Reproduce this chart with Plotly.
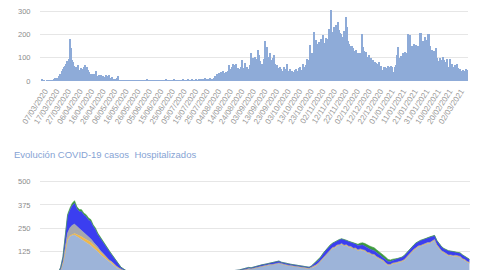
import plotly.graph_objects as go
import pandas as pd

start_date = "2020-03-07"

# Daily new cases (top bar chart), one value per day from 07/03/2020
daily_cases = [
    8, 0, 1, 0, 2, 1, 3, 2, 0, 4,
    6, 12, 15, 9, 14,
    22, 30, 45, 52, 58, 66, 72, 85,
    95, 180, 140, 92, 80, 66, 62,
    58, 70, 48, 38, 55, 52, 62, 70, 44, 60,
    46, 40, 30, 28, 26, 32, 24, 42, 22, 25,
    18, 24, 20, 22, 16, 25, 22, 18, 24, 14,
    12, 16, 10, 8, 6, 12, 20, 4,
    2, 1, 3, 0, 2, 4, 1, 2, 0, 3, 1, 2,
    3, 1, 0, 2, 4, 1, 2, 3, 0, 1, 2, 5, 1, 3, 2, 0, 1, 4, 2, 1,
    2, 3, 1, 4, 2, 1, 3, 5, 2, 1, 4, 2, 3, 1, 6, 2, 3, 4, 1, 2,
    3, 2, 5, 4, 2, 3, 6, 3, 2, 4, 5, 3, 2, 6, 4, 3, 5, 4, 8,
    10, 6, 12, 8, 9, 5, 11, 7, 9, 10,
    14, 20, 28, 24, 35, 30, 38, 26, 42, 33, 40, 36,
    45, 68, 50, 62, 75, 58, 67, 72, 38, 55,
    52, 60, 88, 55, 48, 76, 62, 50, 40, 68,
    120, 88, 98, 103, 80, 95, 132, 110, 85, 72,
    53, 95, 172, 120, 146, 105, 118, 92, 82, 98,
    110, 75, 68, 55, 48, 60, 52, 45, 58, 50,
    48, 75, 42, 38, 50, 44, 39, 30, 46, 53,
    42, 55, 60, 48, 35, 75, 62, 70, 96, 66,
    88, 153, 82, 120, 210, 140, 175, 160, 146, 168,
    180, 175, 196, 130, 165, 185, 178, 224, 188, 306,
    196, 210, 232, 238, 226, 253, 218, 205, 202, 190,
    215, 180, 274, 230, 170, 160, 148, 152, 140, 130,
    125, 135, 118, 110, 122, 115, 203, 146, 130, 125,
    95, 103, 110, 62, 100, 88, 75, 82, 78, 46,
    72, 80, 65, 48, 32, 58, 62, 55, 66, 60,
    54, 63, 58, 39, 62, 68, 110, 146, 70, 100,
    108, 120, 115, 125, 105, 118, 203, 198, 140, 150,
    145, 160, 138, 155, 150, 142, 205, 207, 165, 170,
    190, 175, 168, 203, 200, 150, 132, 120, 128, 112,
    140, 98, 85, 100, 92, 78, 103, 88, 80, 96,
    60, 8, 96, 70, 75, 62, 68, 58, 72, 55,
    50, 52, 45, 48, 40, 44, 52, 46,
]

# Hospitalised (bottom stacked area), one value every 2 days from 07/03/2020
hosp_base = [
    0, 0, 0, 0, 1, 2, 4,
    8, 25, 60, 130, 185, 205, 212, 214, 206, 200,
    190, 180, 172, 165, 158, 146, 136, 124, 110, 100,
    88, 76, 67, 60, 50, 40, 33, 26, 21, 15,
    11, 9,
    8, 7, 7, 6, 6, 5, 5, 5, 4, 4,
    4, 4, 3, 3, 3, 3, 3, 4, 4, 4,
    5, 5, 5, 6, 6, 7, 8, 9, 10, 11,
    12, 12, 13, 14, 14, 15, 15, 16, 16, 17,
    17, 18, 18, 19, 20, 21,
    20, 23, 26, 28, 32, 31, 34, 36, 40, 43,
    45, 48, 50, 53, 53, 58, 59, 62, 58, 53,
    52, 50, 48, 45, 44, 41, 40, 36, 36, 34,
    33, 39,
    41, 49, 59, 73, 88, 103, 117, 129, 141, 144,
    155, 158, 164, 154, 157, 148, 146, 139, 139, 129,
    134, 130, 127, 116, 114, 106, 104, 93, 87, 78,
    72, 58, 50, 51, 58, 60, 63, 68, 70, 78,
    91, 108, 117, 131, 140, 150, 153, 159, 162, 168,
    169, 177, 185, 156, 139, 124, 117, 108, 101, 102,
    98, 100, 95, 94, 82, 77, 67, 62,
]
hosp_orange = [
    0, 0, 0, 0, 0, 0, 0,
    0, 1, 2, 3, 4, 5, 6, 8, 10, 12,
    15, 17, 18, 18, 17, 16, 16, 15, 14, 13,
    12, 10, 9, 8, 6, 5, 4, 3, 2, 1,
    1, 0,
    0, 0, 0, 0, 0, 0, 0, 0, 0, 0,
    0, 0, 0, 0, 0, 0, 0, 0, 0, 0,
    0, 0, 0, 0, 0, 0, 0, 0, 0, 0,
    0, 0, 0, 0, 0, 0, 0, 0, 0, 0,
    0, 0, 0, 0, 0, 0,
    1, 1, 1, 1, 1, 1, 1, 1, 1, 1,
    1, 1, 1, 1, 1, 1, 1, 1, 1, 1,
    1, 1, 1, 1, 1, 1, 1, 1, 1, 1,
    1, 1,
    3, 3, 2, 3, 4, 3, 3, 2, 3, 4,
    3, 3, 2, 3, 3, 4, 3, 2, 3, 3,
    3, 4, 3, 3, 2, 3, 3, 4, 3, 3,
    2, 3, 3, 3, 4, 3, 3, 2, 3, 3,
    4, 3, 3, 2, 3, 3, 3, 4, 3, 3,
    2, 3, 3, 3, 4, 3, 2, 3, 3, 3,
    4, 3, 3, 2, 3, 3, 3, 3,
]
hosp_gray = [
    0, 0, 0, 0, 0, 0, 0,
    1, 3, 8, 20, 35, 42, 48, 50, 45, 40,
    36, 30, 26, 22, 18, 15, 12, 10, 8, 6,
    5, 4, 3, 3, 2, 2, 1, 1, 1, 0,
    0, 0,
    0, 0, 0, 0, 0, 0, 0, 0, 0, 0,
    0, 0, 0, 0, 0, 0, 0, 0, 0, 0,
    0, 0, 0, 0, 0, 0, 0, 0, 0, 0,
    0, 0, 0, 0, 0, 0, 0, 0, 0, 0,
    0, 0, 0, 0, 0, 0,
    1, 1, 1, 1, 1, 1, 1, 1, 1, 1,
    1, 1, 1, 1, 1, 1, 1, 1, 1, 1,
    1, 1, 1, 1, 1, 1, 1, 1, 1, 1,
    1, 1,
    2, 2, 2, 1, 2, 2, 2, 3, 2, 2,
    2, 1, 2, 2, 2, 2, 3, 2, 2, 2,
    2, 1, 2, 2, 3, 2, 2, 1, 2, 2,
    3, 2, 2, 2, 1, 2, 2, 3, 2, 2,
    1, 2, 2, 3, 2, 2, 2, 1, 2, 2,
    3, 2, 2, 2, 1, 2, 3, 2, 2, 2,
    1, 2, 2, 3, 2, 2, 2, 2,
]
hosp_blue = [
    0, 0, 0, 0, 0, 1, 1,
    3, 10, 25, 50, 92, 96, 106, 112, 95, 88,
    98, 94, 97, 90, 95, 84, 80, 68, 66, 58,
    56, 47, 46, 37, 32, 22, 17, 10, 8, 5,
    4, 3,
    3, 3, 2, 2, 2, 2, 1, 1, 1, 1,
    1, 1, 1, 1, 1, 1, 1, 1, 1, 1,
    1, 1, 1, 1, 2, 2, 2, 2, 2, 2,
    2, 3, 3, 3, 3, 3, 3, 3, 3, 3,
    3, 3, 3, 3, 3, 4,
    4, 5, 5, 6, 6, 5, 6, 7, 6, 7,
    8, 7, 8, 8, 9, 8, 9, 10, 8, 9,
    8, 8, 7, 8, 7, 7, 6, 7, 6, 6,
    6, 7,
    12, 14, 16, 18, 20, 22, 21, 24, 22, 25,
    23, 26, 24, 27, 22, 25, 23, 26, 22, 24,
    21, 25, 22, 24, 20, 23, 21, 22, 19, 21,
    18, 20, 17, 16, 15, 16, 18, 17, 19, 20,
    22, 21, 24, 22, 25, 23, 26, 24, 27, 25,
    28, 24, 20, 22, 19, 21, 18, 20, 22, 19,
    21, 18, 20, 17, 19, 16, 18, 15,
]
hosp_green = [
    0, 0, 0, 0, 0, 0, 0,
    0, 1, 2, 5, 8, 10, 12, 14, 10, 11,
    11, 10, 10, 10, 9, 8, 7, 7, 6, 6,
    5, 5, 4, 3, 3, 2, 2, 1, 1, 1,
    0, 0,
    0, 0, 0, 0, 0, 0, 0, 0, 0, 0,
    0, 0, 0, 0, 0, 0, 0, 0, 0, 0,
    0, 0, 0, 0, 0, 0, 0, 0, 0, 0,
    0, 0, 0, 0, 0, 0, 0, 0, 0, 0,
    0, 0, 0, 0, 0, 0,
    0, 0, 0, 0, 0, 0, 0, 0, 0, 0,
    0, 0, 0, 0, 0, 0, 0, 0, 0, 0,
    0, 0, 0, 0, 0, 0, 0, 0, 0, 0,
    0, 0,
    2, 2, 2, 2, 2, 2, 2, 2, 2, 2,
    2, 2, 2, 2, 2, 2, 2, 2, 2,
    6, 10, 12, 14, 15, 16, 16, 15, 15, 14,
    14, 13, 12, 10, 8, 6, 4,
    2, 2, 2, 2, 2, 2, 2, 2, 2, 2,
    2, 2, 2, 2, 2, 2, 2, 2, 2, 2,
    2, 2, 2, 2, 2, 2, 2, 2, 2, 2,
    2, 2,
]

title_text = "Evolución COVID-19 casos\u00a0 Hospitalizados"
y1_ticks = [0, 100, 200, 300]
y2_ticks = [125, 250, 375, 500]

dates_daily = pd.date_range(start_date, periods=len(daily_cases), freq="D")
dates_hosp = pd.date_range(start_date, periods=len(hosp_base), freq="2D")

FONT = "Liberation Sans"
fig = go.Figure()
fig.add_trace(go.Bar(
    x=dates_daily, y=daily_cases, xaxis="x", yaxis="y",
    marker=dict(color="#8eabd8", line=dict(width=0)),
))
layers = [
    (hosp_base, "#9db4d9"),
    (hosp_orange, "#f2b845"),
    (hosp_gray, "#a6a8ad"),
    (hosp_blue, "#3b3ef0"),
    (hosp_green, "#3e9b3e"),
]
for vals, col in layers:
    fig.add_trace(go.Scatter(
        x=dates_hosp, y=vals, xaxis="x2", yaxis="y2", stackgroup="hosp",
        mode="lines", line=dict(width=0.6, color=col), fillcolor=col,
    ))

x_range = ["2020-03-05 06:00", "2021-03-10 12:00"]
grid = "#e6e6e6"
tickfont = dict(size=7.5, color="#8c8c8c", family=FONT)

fig.update_layout(
    width=480, height=270,
    margin=dict(l=0, r=0, t=0, b=0),
    showlegend=False, bargap=0,
    paper_bgcolor="white", plot_bgcolor="white",
    xaxis=dict(
        domain=[40 / 480, 468 / 480], range=x_range, type="date", anchor="y",
        tick0=start_date, dtick=864000000, tickformat="%d/%m/%Y",
        tickangle=-57, tickfont=dict(size=8, color="#9a9a9a", family=FONT),
        ticklabelshift=3, ticklabelstandoff=3,
        showgrid=False, showline=False, zeroline=False, ticks="", automargin=False,
    ),
    yaxis=dict(
        domain=[1 - 81 / 270, 1 - 4 / 270], range=[0, 330], anchor="x",
        tickvals=y1_ticks, gridcolor=grid, gridwidth=1, zeroline=False,
        showline=False, ticks="outside", ticklen=7, tickcolor="rgba(0,0,0,0)",
        tickfont=tickfont, automargin=False,
    ),
    xaxis2=dict(
        domain=[40 / 480, 470 / 480], range=x_range, type="date", anchor="y2",
        showticklabels=False, showgrid=False, showline=False, zeroline=False,
        automargin=False,
    ),
    yaxis2=dict(
        domain=[0, 95 / 270], range=[26, 536], anchor="x2",
        tickvals=y2_ticks, gridcolor=grid, gridwidth=1, zeroline=False,
        showline=False, ticks="outside", ticklen=7, tickcolor="rgba(0,0,0,0)",
        tickfont=tickfont, automargin=False,
    ),
    annotations=[dict(
        text=title_text, xref="paper", yref="paper",
        x=12 / 480, y=(270 - 154) / 270, xanchor="left", yanchor="middle",
        showarrow=False, font=dict(size=9.5, color="#86a3d4", family=FONT),
    )],
)

fig.write_html("out.html")
